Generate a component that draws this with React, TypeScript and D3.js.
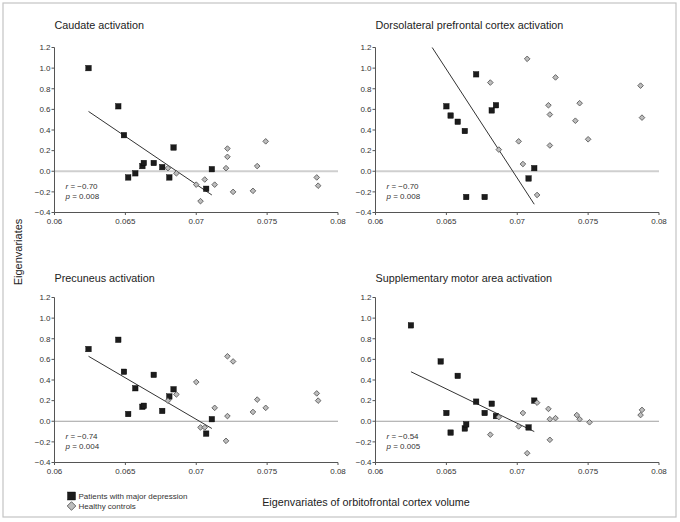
import React from "react";
import * as d3 from "d3";

// ---------- data ----------
const panelTitles = [
  "Caudate activation",
  "Dorsolateral prefrontal cortex activation",
  "Precuneus activation",
  "Supplementary motor area activation",
];

const caudatePatients: [number, number][] = [
  [0.0624, 1.0], [0.0645, 0.63], [0.0649, 0.35], [0.0652, -0.06], [0.0657, -0.02],
  [0.0662, 0.05], [0.0663, 0.08], [0.067, 0.08], [0.0676, 0.04], [0.0681, -0.06],
  [0.0684, 0.23], [0.0707, -0.17], [0.0711, 0.02],
];
const caudateControls: [number, number][] = [
  [0.068, 0.03], [0.0686, -0.02], [0.07, -0.13], [0.0703, -0.29], [0.0706, -0.08],
  [0.0713, -0.13], [0.0721, 0.03], [0.0722, 0.14], [0.0722, 0.22], [0.0726, -0.2],
  [0.074, -0.19], [0.0743, 0.05], [0.0749, 0.29], [0.0785, -0.06], [0.0786, -0.14],
];

const dlpfcPatients: [number, number][] = [
  [0.065, 0.63], [0.0653, 0.54], [0.0658, 0.48], [0.0663, 0.39], [0.0664, -0.25],
  [0.0671, 0.94], [0.0677, -0.25], [0.0682, 0.59], [0.0685, 0.64], [0.0708, -0.07],
  [0.0712, 0.03],
];
const dlpfcControls: [number, number][] = [
  [0.0681, 0.86], [0.0687, 0.21], [0.0701, 0.29], [0.0704, 0.07], [0.0707, 1.09],
  [0.0714, -0.23], [0.0722, 0.64], [0.0723, 0.55], [0.0723, 0.25], [0.0727, 0.91],
  [0.0741, 0.49], [0.0744, 0.66], [0.075, 0.31], [0.0787, 0.83], [0.0788, 0.52],
];

const precuneusPatients: [number, number][] = [
  [0.0624, 0.7], [0.0645, 0.79], [0.0649, 0.48], [0.0652, 0.07], [0.0657, 0.32],
  [0.0662, 0.14], [0.0663, 0.15], [0.067, 0.45], [0.0676, 0.1], [0.0681, 0.24],
  [0.0684, 0.31], [0.0707, -0.12], [0.0711, 0.02],
];
const precuneusControls: [number, number][] = [
  [0.068, 0.2], [0.0686, 0.26], [0.07, 0.38], [0.0703, -0.06], [0.0706, -0.06],
  [0.0713, 0.13], [0.0722, 0.63], [0.0722, 0.05], [0.0721, -0.19], [0.0726, 0.58],
  [0.074, 0.09], [0.0743, 0.21], [0.0749, 0.13], [0.0785, 0.27], [0.0786, 0.2],
];

const smaPatients: [number, number][] = [
  [0.0625, 0.93], [0.0646, 0.58], [0.065, 0.08], [0.0653, -0.11], [0.0658, 0.44],
  [0.0663, -0.07], [0.0664, -0.03], [0.0671, 0.19], [0.0677, 0.08], [0.0682, 0.17],
  [0.0685, 0.05], [0.0708, -0.06], [0.0712, 0.2],
];
const smaControls: [number, number][] = [
  [0.0681, -0.13], [0.0687, 0.04], [0.0701, -0.05], [0.0704, 0.08], [0.0707, -0.31],
  [0.0714, 0.18], [0.0722, 0.12], [0.0723, 0.02], [0.0723, -0.18], [0.0727, 0.03],
  [0.0742, 0.06], [0.0744, 0.02], [0.0751, -0.01], [0.0787, 0.06], [0.0788, 0.11],
];

const caudateFit: [number, number][] = [[0.0624, 0.58], [0.0711, -0.23]];
const dlpfcFit: [number, number][] = [[0.064, 1.2], [0.0712, -0.32]];
const precuneusFit: [number, number][] = [[0.0624, 0.63], [0.0711, -0.07]];
const smaFit: [number, number][] = [[0.0625, 0.48], [0.0712, -0.1]];

const rValues = ["\u22120.70", "\u22120.70", "\u22120.74", "\u22120.54"];
const pValues = ["0.008", "0.008", "0.004", "0.005"];

const xTicks = [0.06, 0.065, 0.07, 0.075, 0.08];
const xTickLabels = ["0.06", "0.065", "0.07", "0.075", "0.08"];
const yTicks = [1.2, 1.0, 0.8, 0.6, 0.4, 0.2, 0.0, -0.2, -0.4];
const yTickLabels = ["1.2", "1.0", "0.8", "0.6", "0.4", "0.2", "0.0", "\u22120.2", "\u22120.4"];

const legendLabels = ["Patients with major depression", "Healthy controls"];
const xAxisTitle = "Eigenvariates of orbitofrontal cortex volume";
const yAxisTitle = "Eigenvariates";

// ---------- layout ----------
const W = 680;
const H = 522;
const FONT = "'Liberation Sans', Arial, Helvetica, sans-serif";
const PW = 283.5;
const PH = 165;
const panelPos = [
  { left: 54.5, top: 47.5, titleY: 28.5, zeroStyle: "light" },
  { left: 375.5, top: 47.5, titleY: 28.5, zeroStyle: "light" },
  { left: 54.5, top: 297.5, titleY: 282, zeroStyle: "dark" },
  { left: 375.5, top: 297.5, titleY: 282, zeroStyle: "dark" },
];

const panelPatients = [caudatePatients, dlpfcPatients, precuneusPatients, smaPatients];
const panelControls = [caudateControls, dlpfcControls, precuneusControls, smaControls];
const panelFits = [caudateFit, dlpfcFit, precuneusFit, smaFit];

const Square = ({ x, y, s }: { x: number; y: number; s: number }) => (
  <rect x={x - s / 2} y={y - s / 2} width={s} height={s} fill="#1c1c1c" stroke="#000" strokeWidth={0.4} />
);

const Diamond = ({ x, y, r }: { x: number; y: number; r: number }) => (
  <path
    d={`M${x},${y - r}L${x + r},${y}L${x},${y + r}L${x - r},${y}Z`}
    fill="#bdbdbd"
    stroke="#5a5a5a"
    strokeWidth={0.9}
  />
);

function Panel({ i }: { i: number }) {
  const pos = panelPos[i];
  const x = d3.scaleLinear().domain([0.06, 0.08]).range([pos.left, pos.left + PW]);
  const y = d3.scaleLinear().domain([-0.4, 1.2]).range([pos.top + PH, pos.top]);
  const line = d3
    .line<[number, number]>()
    .x((d) => x(d[0]))
    .y((d) => y(d[1]));
  const axisColor = "#555";
  const tickFont = 8;
  return (
    <g>
      <text x={pos.left} y={pos.titleY} fontSize={10.8} fill="#222" fontFamily={FONT}>
        {panelTitles[i]}
      </text>
      {/* zero line */}
      <line
        x1={x(0.06)}
        x2={x(0.08)}
        y1={y(0)}
        y2={y(0)}
        stroke={pos.zeroStyle === "light" ? "#cfcfcf" : "#a0a0a0"}
        strokeWidth={pos.zeroStyle === "light" ? 2 : 1}
      />
      {/* y axis */}
      <line x1={pos.left} x2={pos.left} y1={y(1.2)} y2={y(-0.4)} stroke={axisColor} strokeWidth={1} />
      {yTicks.map((t, k) => (
        <g key={k}>
          <line x1={pos.left - 3} x2={pos.left} y1={y(t)} y2={y(t)} stroke={axisColor} strokeWidth={1} />
          <text
            x={pos.left - 4}
            y={y(t) + 2.8}
            fontSize={tickFont}
            textAnchor="end"
            fill="#333"
            fontFamily={FONT}
          >
            {yTickLabels[k]}
          </text>
        </g>
      ))}
      {/* x axis */}
      <line x1={x(0.06)} x2={x(0.08)} y1={y(-0.4)} y2={y(-0.4)} stroke={axisColor} strokeWidth={1} />
      {xTicks.map((t, k) => (
        <g key={k}>
          <line x1={x(t)} x2={x(t)} y1={y(-0.4)} y2={y(-0.4) + 2.5} stroke={axisColor} strokeWidth={1} />
          <text
            x={x(t)}
            y={y(-0.4) + 11}
            fontSize={tickFont}
            textAnchor="middle"
            fill="#333"
            fontFamily={FONT}
          >
            {xTickLabels[k]}
          </text>
        </g>
      ))}
      {/* fit line */}
      <path d={line(panelFits[i]) || ""} stroke="#333" strokeWidth={1} fill="none" />
      {/* markers */}
      {panelPatients[i].map((d, k) => (
        <Square key={"p" + k} x={x(d[0])} y={y(d[1])} s={5.5} />
      ))}
      {panelControls[i].map((d, k) => (
        <Diamond key={"c" + k} x={x(d[0])} y={y(d[1])} r={2.8} />
      ))}
      {/* stats */}
      <text x={pos.left + 11} y={y(-0.4) - 23.5} fontSize={8} fill="#333" fontFamily={FONT}>
        <tspan fontStyle="italic">r</tspan> = {rValues[i]}
      </text>
      <text x={pos.left + 11} y={y(-0.4) - 13.5} fontSize={8} fill="#333" fontFamily={FONT}>
        <tspan fontStyle="italic">p</tspan> = {pValues[i]}
      </text>
    </g>
  );
}

export default function App() {
  return (
    <svg
      width={W}
      height={H}
      viewBox={`0 0 ${W} ${H}`}
      style={{ position: "absolute", left: 0, top: 0, background: "#fff" }}
      fontFamily={FONT}
    >
      <rect x={0} y={0} width={W} height={H} fill="#fff" />
      <rect x={3} y={3} width={673} height={514} fill="none" stroke="#c4c4c4" strokeWidth={1.2} />
      {[0, 1, 2, 3].map((i) => (
        <Panel key={i} i={i} />
      ))}
      {/* y axis title */}
      <text
        transform={`translate(22,252) rotate(-90)`}
        textAnchor="middle"
        fontSize={11}
        fill="#222"
        fontFamily={FONT}
      >
        {yAxisTitle}
      </text>
      {/* x axis title */}
      <text x={366} y={506} textAnchor="middle" fontSize={10.8} fill="#222" fontFamily={FONT}>
        {xAxisTitle}
      </text>
      {/* legend */}
      <Square x={71.5} y={496} s={8} />
      <text x={78.5} y={499} fontSize={8} fill="#333" fontFamily={FONT}>
        {legendLabels[0]}
      </text>
      <Diamond x={71.5} y={506} r={4.3} />
      <text x={78.5} y={508.5} fontSize={8} fill="#333" fontFamily={FONT}>
        {legendLabels[1]}
      </text>
    </svg>
  );
}
